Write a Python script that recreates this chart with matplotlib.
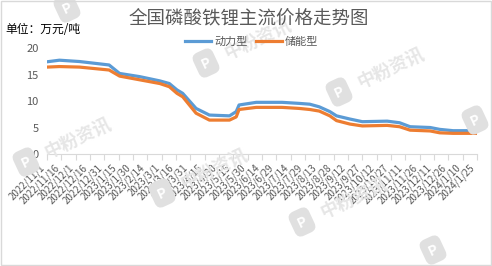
import matplotlib.pyplot as plt
import pandas as pd

plt.rcParams['font.family'] = ['Noto Sans CJK SC', 'DejaVu Sans']

# key points (万元/吨)
dates = ["2022-11-01", "2022-11-14", "2022-12-05", "2023-01-05", "2023-01-16",
         "2023-02-06", "2023-02-27", "2023-03-09", "2023-03-17", "2023-03-23",
         "2023-04-06", "2023-04-20", "2023-05-11", "2023-05-18", "2023-05-21",
         "2023-06-08", "2023-07-05", "2023-07-23", "2023-08-03", "2023-08-13",
         "2023-08-24", "2023-08-31", "2023-09-14", "2023-09-27", "2023-10-23",
         "2023-11-05", "2023-11-16", "2023-12-07", "2023-12-17", "2023-12-31",
         "2024-01-24"]
power = [17.4, 17.7, 17.45, 16.8, 15.2, 14.6, 13.8, 13.3, 12.1, 11.45,
         8.6, 7.35, 7.2, 8.0, 9.25, 9.75, 9.75, 9.55, 9.4, 8.9,
         8.0, 7.2, 6.6, 6.1, 6.2, 5.9, 5.15, 5.0, 4.65, 4.4, 4.4]
storage = [16.4, 16.5, 16.4, 15.85, 14.7, 14.0, 13.3, 12.7, 11.45, 10.8,
           7.7, 6.4, 6.4, 7.0, 8.4, 8.8, 8.8, 8.6, 8.4, 8.1,
           7.2, 6.3, 5.65, 5.3, 5.4, 5.15, 4.5, 4.35, 4.0, 3.9, 3.9]

x = pd.to_datetime(dates)
ticks = pd.date_range("2022-11-01", "2024-01-25", freq="15D")
tick_labels = [f"{d.year}/{d.month}/{d.day}" for d in ticks]

# watermark logo positions in pixels (from top-left), and whether the text fits
wm_logos = [(67, 8, False), (206, 63, True), (26, 162, True), (162, 193, True),
            (339, 92, True), (475, 120, False), (302, 222, True), (433, 250, False)]

W, H = 492, 266
grey = '#595959'
fig = plt.figure(figsize=(4.92, 2.66), dpi=100)
fig.patches.append(plt.Rectangle((0.002, 0.004), 0.996, 0.992, transform=fig.transFigure,
                                 fill=False, edgecolor='#d9d9d9', linewidth=1))

for lx, ly, with_text in wm_logos:
    fig.text(lx / W, 1 - ly / H, 'P', color='white', fontsize=10, fontweight='bold',
             rotation=25, ha='center', va='center', zorder=0,
             bbox=dict(boxstyle='round,pad=0.45,rounding_size=0.5', fc='#e0e0e0', ec='none'))
    if with_text:
        fig.text((lx + 52) / W, 1 - (ly - 24) / H, '中粉资讯', color='#e6e6e6', fontsize=13,
                 fontweight='bold', rotation=25, ha='center', va='center', zorder=0)

ax = fig.add_axes([0.0955, 0.421, 0.874, 0.3985])
ax.set_facecolor('none')

ax.plot(x, power, color='#5B9BD5', linewidth=2.3, label='动力型')
ax.plot(x, storage, color='#ED7D31', linewidth=2.3, label='储能型')

ax.set_ylim(0, 20)
ax.set_yticks([0, 5, 10, 15, 20])
ax.set_xlim(ticks[0], ticks[-1])
ax.set_xticks(ticks)
ax.set_xticklabels(tick_labels, rotation=45, ha='right', fontsize=7, color=grey)
ax.tick_params(axis='x', length=4, color='#d9d9d9', pad=2)
ax.tick_params(axis='y', length=0, labelsize=8, labelcolor=grey, pad=6)
for s in ['top', 'right', 'left']:
    ax.spines[s].set_visible(False)
ax.spines['bottom'].set_color('#d9d9d9')

fig.text(0.505, 0.93, '全国磷酸铁锂主流价格走势图', ha='center', va='center',
         fontsize=13.3, fontweight='light', color=grey)
fig.text(0.01, 0.89, '单位：万元/吨', ha='left', va='center', fontsize=8.5, color='black')
fig.legend(loc='center', bbox_to_anchor=(0.512, 0.842), ncol=2, frameon=False,
           fontsize=8, handlelength=2.3, columnspacing=0.8, handletextpad=0.3,
           labelcolor=grey)

fig.savefig('out.png', dpi=100)
